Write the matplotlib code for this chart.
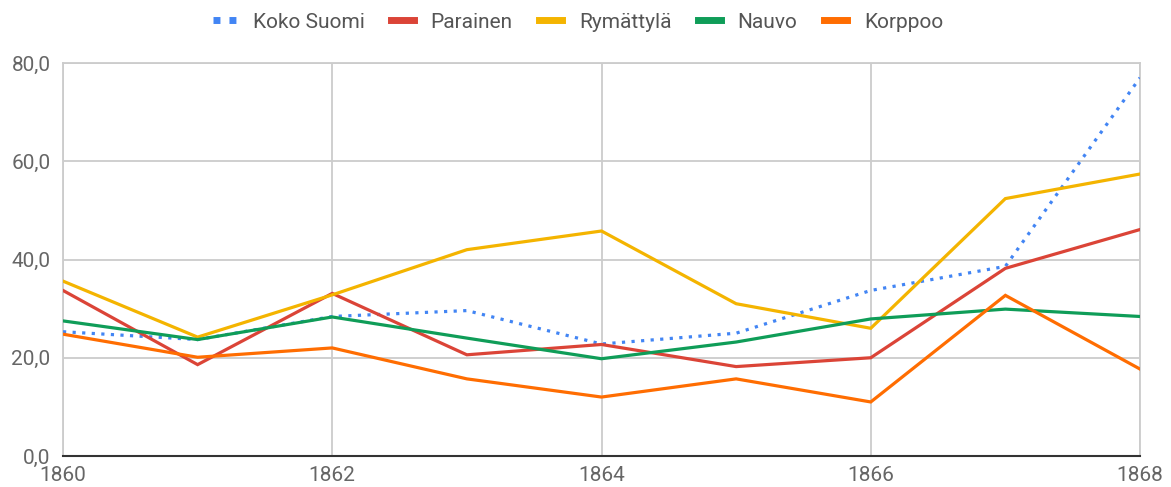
import matplotlib
matplotlib.use("Agg")
import matplotlib.pyplot as plt
from matplotlib.ticker import FuncFormatter

plt.rcParams['font.family'] = ['Roboto', 'DejaVu Sans']

years = [1860, 1861, 1862, 1863, 1864, 1865, 1866, 1867, 1868]
koko_suomi = [25.3, 23.7, 28.4, 29.6, 22.8, 25.0, 33.7, 38.6, 77.0]
parainen = [33.7, 18.6, 33.1, 20.6, 22.7, 18.2, 20.0, 38.2, 46.1]
rymattyla = [35.6, 24.2, 32.8, 42.0, 45.8, 31.0, 26.0, 52.4, 57.4]
nauvo = [27.5, 23.7, 28.3, 24.0, 19.8, 23.2, 27.9, 29.9, 28.4]
korppoo = [24.8, 20.1, 22.0, 15.7, 12.0, 15.7, 11.0, 32.7, 17.7]

series = [
    ("Koko Suomi", koko_suomi, "#4285F4"),
    ("Parainen", parainen, "#DB4437"),
    ("Rymättylä", rymattyla, "#F4B400"),
    ("Nauvo", nauvo, "#0F9D58"),
    ("Korppoo", korppoo, "#FF6D01"),
]

W, H = 1171, 487
fig = plt.figure(figsize=(W / 100, H / 100), dpi=100)
ax = fig.add_axes([63 / W, (H - 456) / H, (1140 - 63) / W, (456 - 63) / H])

for name, vals, col in series:
    if name == "Koko Suomi":
        ax.plot(years, vals, color=col, lw=2.3, linestyle=(0, (1, 2)),
                dash_capstyle='butt', label=name, zorder=3)
    else:
        ax.plot(years, vals, color=col, lw=2.3, label=name, zorder=3,
                solid_joinstyle='miter')

ax.set_xlim(1860, 1868)
ax.set_ylim(0, 80)
ax.set_xticks([1860, 1862, 1864, 1866, 1868])
ax.set_yticks([0, 20, 40, 60, 80])
ax.yaxis.set_major_formatter(FuncFormatter(lambda v, p: f"{v:.1f}".replace(".", ",")))
ax.grid(True, color="#cccccc", lw=1.3)
ax.set_axisbelow(True)
for s in ["top", "right", "left"]:
    ax.spines[s].set_color("#cccccc")
    ax.spines[s].set_linewidth(1.3)
ax.spines["bottom"].set_color("#333333")
ax.spines["bottom"].set_linewidth(1.5)
ax.tick_params(length=0, labelsize=15, labelcolor="#666666")
ax.tick_params(axis='y', pad=9)
ax.tick_params(axis='x', pad=7)

leg = fig.legend(loc="center", bbox_to_anchor=(578 / W, 1 - 22 / H), ncol=5,
                 frameon=False, fontsize=15, handlelength=1.1,
                 columnspacing=1.28, handletextpad=0.8)
for t in leg.get_texts():
    t.set_color("#555555")
for h in leg.get_lines():
    h.set_linewidth(5)
    if h.get_label() == "Koko Suomi":
        h.set_linestyle((0, (1, 1.3)))
        h.set_dash_capstyle('butt')

fig.savefig("out.png", dpi=100)
